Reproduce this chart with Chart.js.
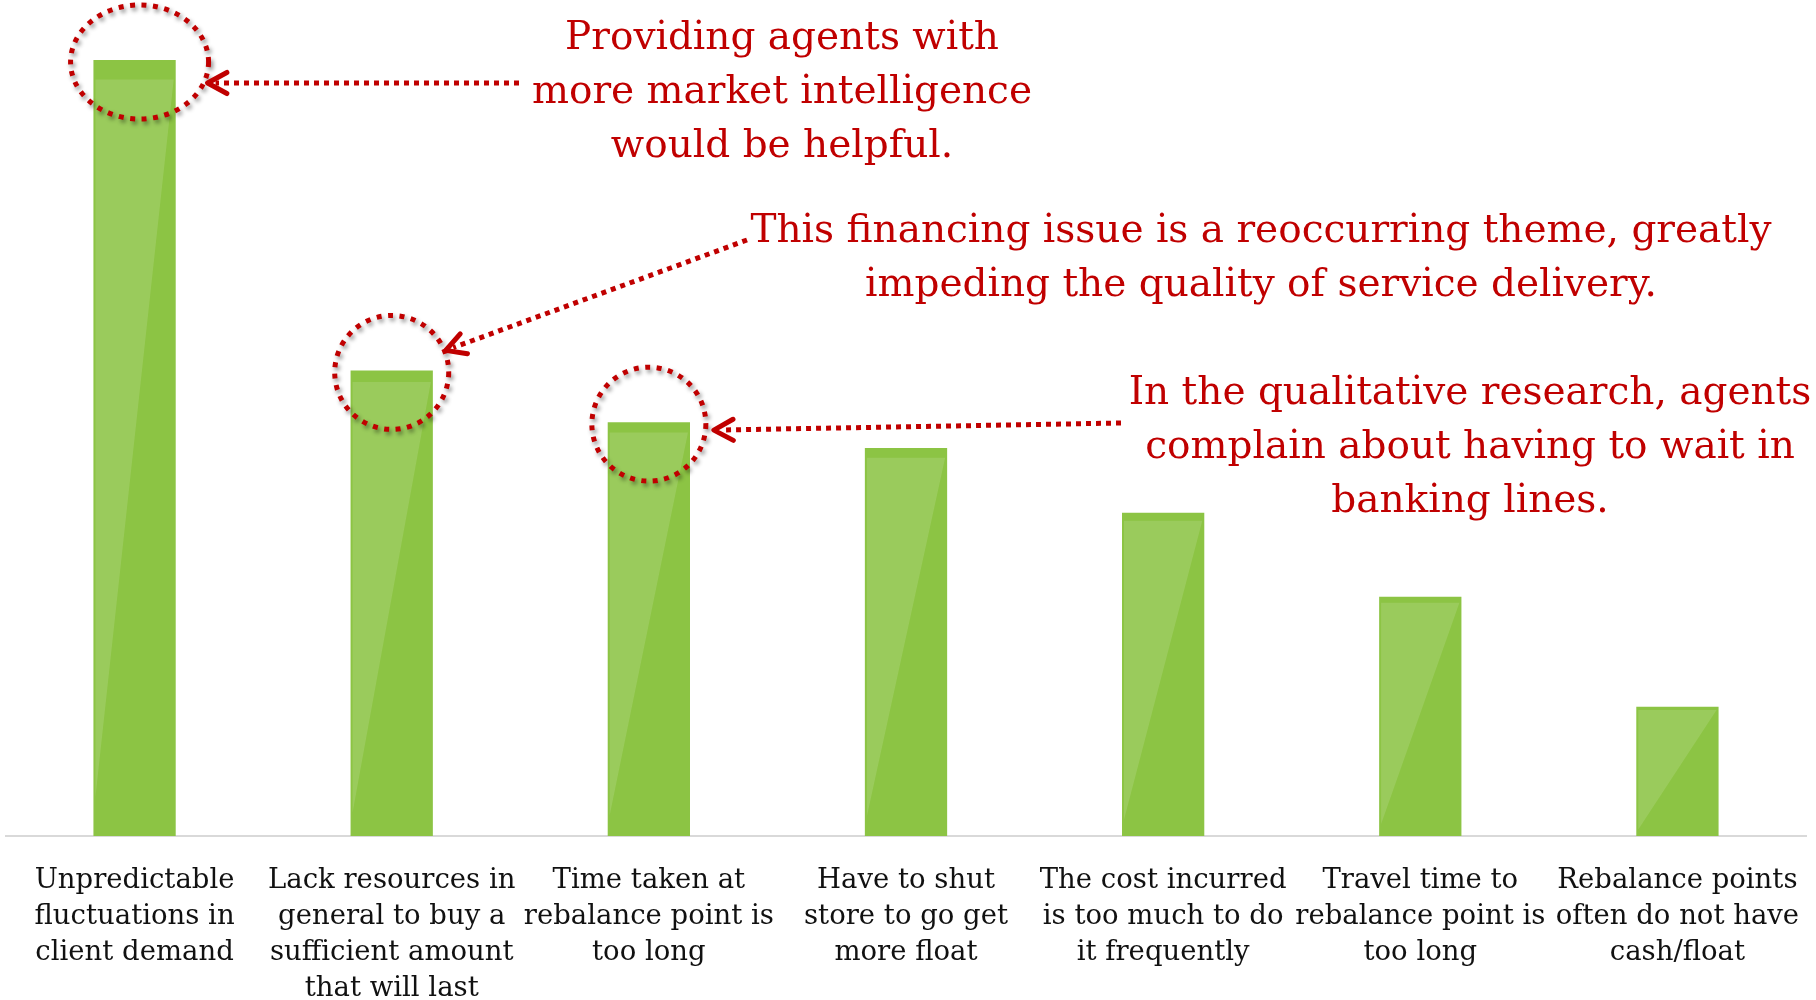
<!DOCTYPE html>
<html>
<head>
<meta charset="utf-8">
<script src="https://cdn.jsdelivr.net/npm/chart.js@4.4.1/dist/chart.umd.min.js"></script>
<style>
  html, body { margin: 0; padding: 0; background: #fff; }
  #wrap { width: 1816px; height: 1000px; position: relative; }
</style>
</head>
<body>
<div id="wrap"><canvas id="pain-chart"></canvas></div>
<script>
// Challenges agents face when rebalancing (share of agents)
const categories = [
    ['Unpredictable', 'fluctuations in', 'client demand'],
    ['Lack resources in', 'general to buy a', 'sufficient amount', 'that will last'],
    ['Time taken at', 'rebalance point is', 'too long'],
    ['Have to shut', 'store to go get', 'more float'],
    ['The cost incurred', 'is too much to do', 'it frequently'],
    ['Travel time to', 'rebalance point is', 'too long'],
    ['Rebalance points', 'often do not have', 'cash/float']
];
const shares = [60, 36, 32, 30, 25, 18.5, 10];

const calloutText1 = ['Providing agents with', 'more market intelligence', 'would be helpful.'];
const calloutText2 = ['This financing issue is a reoccurring theme, greatly', 'impeding the quality of service delivery.'];
const calloutText3 = ['In the qualitative research, agents', 'complain about having to wait in', 'banking lines.'];

const GREEN = '#8cc444';
const RED = '#c00000';
const SERIF = '"DejaVu Serif", "Liberation Serif", serif';

// callouts: which bar they point at, ring size, where the arrow starts, text block
const callouts = [
    { bar: 0, rx: 69, ry: 57, ringDx: 5, tip: [73, 23], tail: [519, 83], text: calloutText1, tx: 782, ty: 49 },
    { bar: 1, rx: 57, ry: 57, ringDx: 0, tip: [54, -20], tail: [747, 240], text: calloutText2, tx: 1261, ty: 242 },
    { bar: 2, rx: 57, ry: 57, ringDx: 0, tip: [65, 8], tail: [1121, 423], text: calloutText3, tx: 1470, ty: 404 }
];

// light diagonal sheen on each bar
const barSheen = {
    id: 'barSheen',
    afterDatasetsDraw(chart) {
        const ctx = chart.ctx;
        chart.getDatasetMeta(0).data.forEach(bar => {
            const left = bar.x - bar.width / 2;
            const right = bar.x + bar.width / 2;
            const h = bar.base - bar.y;
            const top = bar.y + Math.max(3, h * 0.025);
            ctx.save();
            ctx.fillStyle = 'rgba(255,255,255,0.13)';
            ctx.beginPath();
            ctx.moveTo(left + 2, top);
            ctx.lineTo(right - 2, top);
            ctx.lineTo(left + 2, bar.base - Math.max(4, h * 0.05));
            ctx.closePath();
            ctx.fill();
            ctx.restore();
        });
    }
};

function drawArrow(ctx, x0, y0, x1, y1) {
    ctx.save();
    ctx.strokeStyle = RED;
    ctx.lineWidth = 5;
    ctx.setLineDash([5, 5]);
    const ang = Math.atan2(y1 - y0, x1 - x0);
    ctx.beginPath();
    ctx.moveTo(x0, y0);
    ctx.lineTo(x1 - Math.cos(ang) * 8, y1 - Math.sin(ang) * 8);
    ctx.stroke();
    // open arrow head
    ctx.setLineDash([]);
    ctx.lineCap = 'round';
    ctx.lineJoin = 'round';
    const len = 22, spread = 0.5;
    ctx.beginPath();
    ctx.moveTo(x1 - Math.cos(ang - spread) * len, y1 - Math.sin(ang - spread) * len);
    ctx.lineTo(x1, y1);
    ctx.lineTo(x1 - Math.cos(ang + spread) * len, y1 - Math.sin(ang + spread) * len);
    ctx.stroke();
    ctx.restore();
}

const calloutPlugin = {
    id: 'callouts',
    afterDraw(chart) {
        const ctx = chart.ctx;
        const bars = chart.getDatasetMeta(0).data;
        callouts.forEach(c => {
            const bar = bars[c.bar];
            // dotted ring round the bar top
            ctx.save();
            ctx.strokeStyle = RED;
            ctx.lineWidth = 5;
            ctx.setLineDash([5, 6.5]);
            ctx.shadowColor = 'rgba(0,0,0,0.45)';
            ctx.shadowBlur = 4;
            ctx.shadowOffsetX = 2;
            ctx.shadowOffsetY = 3;
            ctx.beginPath();
            ctx.ellipse(bar.x + c.ringDx, bar.y + 2, c.rx, c.ry, 0, 0, Math.PI * 2);
            ctx.stroke();
            ctx.restore();

            drawArrow(ctx, c.tail[0], c.tail[1], bar.x + c.tip[0], bar.y + c.tip[1]);

            ctx.save();
            ctx.fillStyle = RED;
            ctx.font = '39px ' + SERIF;
            ctx.textAlign = 'center';
            ctx.textBaseline = 'alphabetic';
            c.text.forEach((line, i) => ctx.fillText(line, c.tx, c.ty + i * 54));
            ctx.restore();
        });
    }
};

new Chart(document.getElementById('pain-chart'), {
    type: 'bar',
    data: {
        labels: categories,
        datasets: [{
            data: shares,
            backgroundColor: GREEN,
            borderWidth: 0,
            categoryPercentage: 1,
            barPercentage: 0.32
        }]
    },
    options: {
        responsive: true,
        maintainAspectRatio: false,
        animation: false,
        layout: { padding: { top: 60, left: 6, right: 10, bottom: 0 } },
        plugins: {
            legend: { display: false },
            tooltip: { enabled: false }
        },
        scales: {
            x: {
                grid: { display: false, drawTicks: false },
                border: { display: true, color: '#d9d9d9', width: 2 },
                ticks: {
                    color: '#111',
                    font: { family: SERIF, size: 27.5, lineHeight: '36px' },
                    padding: 27,
                    maxRotation: 0,
                    autoSkip: false
                },
                // labels may spill to the page edge; keep the plot full width
                afterFit(scale) {
                    scale.paddingLeft = 0;
                    scale.paddingRight = 0;
                    scale.height = 164;
                }
            },
            y: {
                display: false,
                min: 0,
                max: 60
            }
        }
    },
    plugins: [barSheen, calloutPlugin]
});
</script>
</body>
</html>
